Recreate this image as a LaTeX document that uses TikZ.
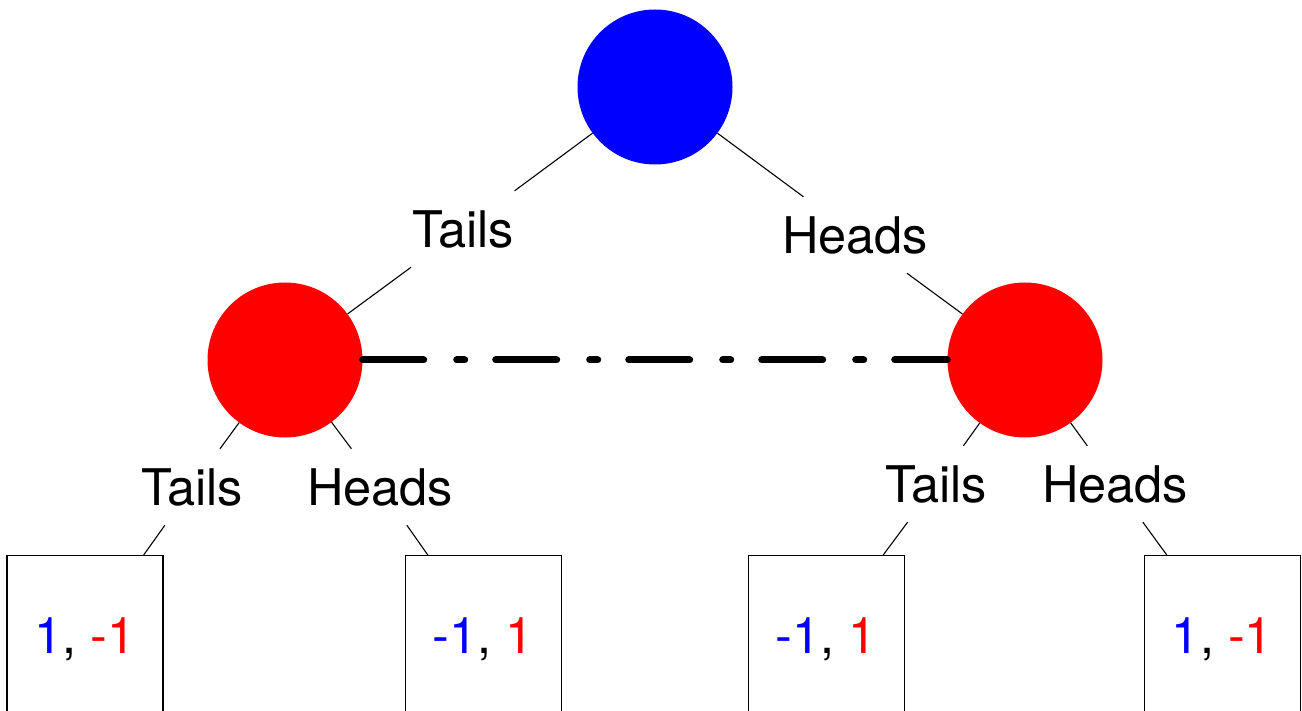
\documentclass[tikz,border=0pt]{standalone}
\usepackage{fontspec}
\setmainfont{TeX Gyre Heros}
\begin{document}
\begin{tikzpicture}[x=1pt,y=-1pt,
 big/.style={font=\fontsize{50.5}{60}\selectfont},
 chance/.style={circle, minimum size=155, inner sep=0, fill=#1},
 lbl/.style={big, minimum width=104, minimum height=76, inner sep=0},
 leaf/.style={big, draw, line width=1.4pt, minimum width=156, minimum height=160, inner sep=0, text depth=0pt, anchor=north},
 edge/.style={line width=1.1pt},
 info/.style={line width=7pt, line cap=round, dash pattern=on 61pt off 33pt on 8pt off 31pt}]
\useasboundingbox (0,0) rectangle (1302,711);
\clip (0,0) rectangle (1302,711);
\fill[white] (0,0) rectangle (1302,711);
% decision nodes
\node[chance=blue] (root) at (655,87) {};
\node[chance=red] (p2l) at (285,360) {};
\node[chance=red] (p2r) at (1025,360) {};
% first-level labels
\node[lbl] (t1) at (463,229) {Tails};
\node[lbl] (h1) at (855,235) {Heads};
% second-level labels
\node[lbl] (lt) at (192,487) {Tails};
\node[lbl] (lh) at (380,487) {Heads};
\node[lbl] (rt) at (936,484) {Tails};
\node[lbl] (rh) at (1115,484) {Heads};
% leaves
\node[leaf] (b1) at (85,555) {\textcolor{blue}{1}, \textcolor{red}{-1}};
\node[leaf] (b2) at (483.5,555) {\textcolor{blue}{-1}, \textcolor{red}{1}};
\node[leaf] (b3) at (826.5,555) {\textcolor{blue}{-1}, \textcolor{red}{1}};
\node[leaf] (b4) at (1222.5,555) {\textcolor{blue}{1}, \textcolor{red}{-1}};
\coordinate (e1) at ([xshift=-20pt]b1.north east);
\coordinate (e2) at ([xshift=23pt]b2.north west);
\coordinate (e3) at ([xshift=-22pt]b3.north east);
\coordinate (e4) at ([xshift=23pt]b4.north west);
% connectors
\draw[edge] (root) -- (t1) -- (p2l);
\draw[edge] (root) -- (h1) -- (p2r);
\draw[edge] (p2l) -- (lt) -- (e1);
\draw[edge] (p2l) -- (lh) -- (e2);
\draw[edge] (p2r) -- (rt) -- (e3);
\draw[edge] (p2r) -- (rh) -- (e4);
% information set
\draw[info] (p2l) -- (p2r);
\end{tikzpicture}
\end{document}
